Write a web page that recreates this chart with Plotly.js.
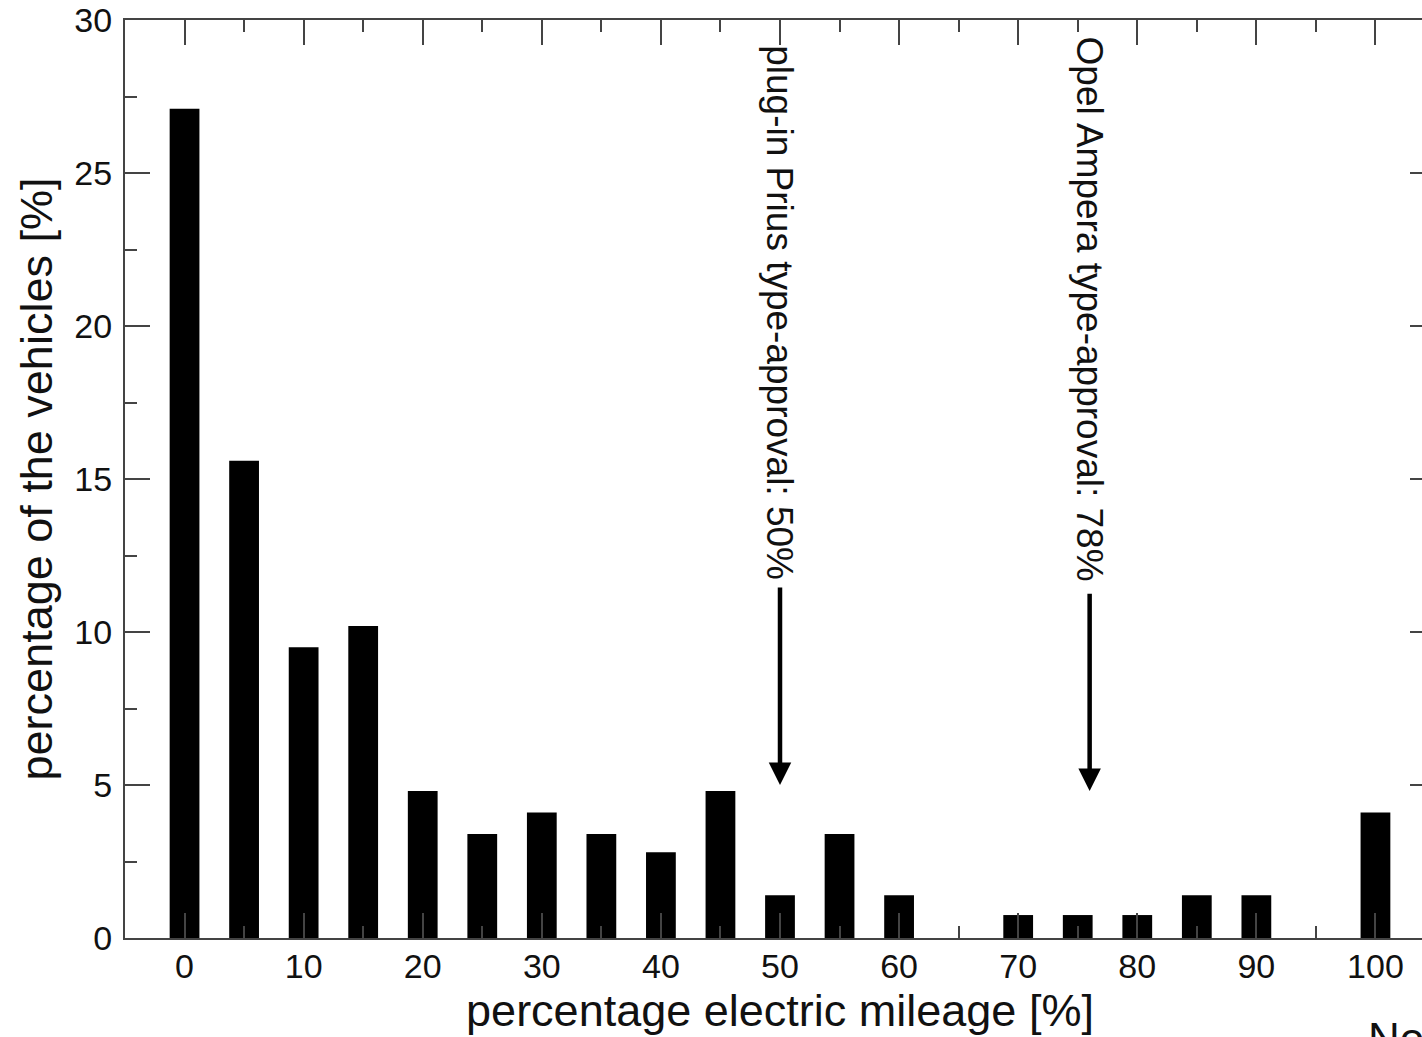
<!DOCTYPE html>
<html>
<head>
<meta charset="utf-8">
<script src="https://cdn.plot.ly/plotly-3.0.1.min.js"></script>
<style>
html, body { margin: 0; padding: 0; overflow: hidden; background: #fff; }
#chart { width: 1440px; height: 1037px; }
</style>
</head>
<body>
<div id="chart"></div>
<script>
// Data
const mileageBins = [0, 5, 10, 15, 20, 25, 30, 35, 40, 45, 50, 55, 60, 65, 70, 75, 80, 85, 90, 95, 100];
const vehicleShare = [27.1, 15.6, 9.5, 10.2, 4.8, 3.4, 4.1, 3.4, 2.8, 4.8, 1.4, 3.4, 1.4, 0, 0.75, 0.75, 0.75, 1.4, 1.4, 0, 4.1];
const markerLabels = ["plug-in Prius type-approval: 50%", "Opel Ampera type-approval: 78%"];
const markerX = [50, 76];
const markerTipY = [5.0, 4.8];
const markerTextY = [20.45, 20.55];
const markerTailY = [11.5, 11.3];
const xTickVals = [0, 10, 20, 30, 40, 50, 60, 70, 80, 90, 100];
const yTickVals = [0, 5, 10, 15, 20, 25, 30];

const FONT = "Liberation Sans, Arial, Helvetica, sans-serif";
const axisColor = "#444";

const trace = {
  type: "bar",
  x: mileageBins,
  y: vehicleShare,
  width: 2.5,
  marker: { color: "#000", line: { width: 0 } },
  hoverinfo: "x+y"
};

const annotations = [];
for (let i = 0; i < markerLabels.length; i++) {
  annotations.push({
    x: markerX[i], y: markerTextY[i], xref: "x", yref: "y",
    text: markerLabels[i], textangle: 90, showarrow: false,
    xanchor: "center", yanchor: "middle",
    font: { family: FONT, size: 37, color: "#111" }
  });
  annotations.push({
    x: markerX[i], y: markerTipY[i], xref: "x", yref: "y",
    ax: markerX[i], ay: markerTailY[i], axref: "x", ayref: "y",
    text: "", showarrow: true, arrowhead: 2, arrowsize: 1, arrowwidth: 4.5,
    arrowcolor: "#000"
  });
}
annotations.push({
  xref: "paper", yref: "paper", x: 0.947, y: -0.081,
  xanchor: "left", yanchor: "top", text: "No", showarrow: false,
  font: { family: FONT, size: 44, color: "#111" }
});

const layout = {
  width: 1440, height: 1037,
  margin: { l: 125, r: 5, t: 20, b: 99, pad: 0 },
  paper_bgcolor: "#fff", plot_bgcolor: "#fff",
  showlegend: false,
  font: { family: FONT, size: 34, color: "#111" },
  xaxis: {
    range: [-5, 105], tickvals: xTickVals, ticktext: xTickVals.map(String),
    ticks: "inside", ticklen: 25, tickwidth: 2, tickcolor: axisColor,
    showline: true, linecolor: axisColor, linewidth: 2, mirror: "ticks",
    showgrid: false, zeroline: false,
    minor: { dtick: 5, tick0: 0, ticks: "inside", ticklen: 12, tickwidth: 2, tickcolor: axisColor, showgrid: false },
    tickfont: { family: FONT, size: 34, color: "#111" },
    ticklabelstandoff: -3,
    title: { text: "percentage electric mileage [%]", font: { family: FONT, size: 45, color: "#111" }, standoff: 0 }
  },
  yaxis: {
    range: [0, 30], tickvals: yTickVals, ticktext: yTickVals.map(String),
    ticks: "inside", ticklen: 25, tickwidth: 2, tickcolor: axisColor,
    showline: true, linecolor: axisColor, linewidth: 2, mirror: "ticks",
    showgrid: false, zeroline: false,
    minor: { dtick: 2.5, tick0: 0, ticks: "inside", ticklen: 12, tickwidth: 2, tickcolor: axisColor, showgrid: false },
    tickfont: { family: FONT, size: 34, color: "#111" },
    ticklabelstandoff: 4,
    title: { text: "percentage of the vehicles [%]", font: { family: FONT, size: 45, color: "#111" }, standoff: 8 }
  },
  annotations: annotations
};

Plotly.newPlot("chart", [trace], layout, { staticPlot: true, displayModeBar: false });
</script>
</body>
</html>
